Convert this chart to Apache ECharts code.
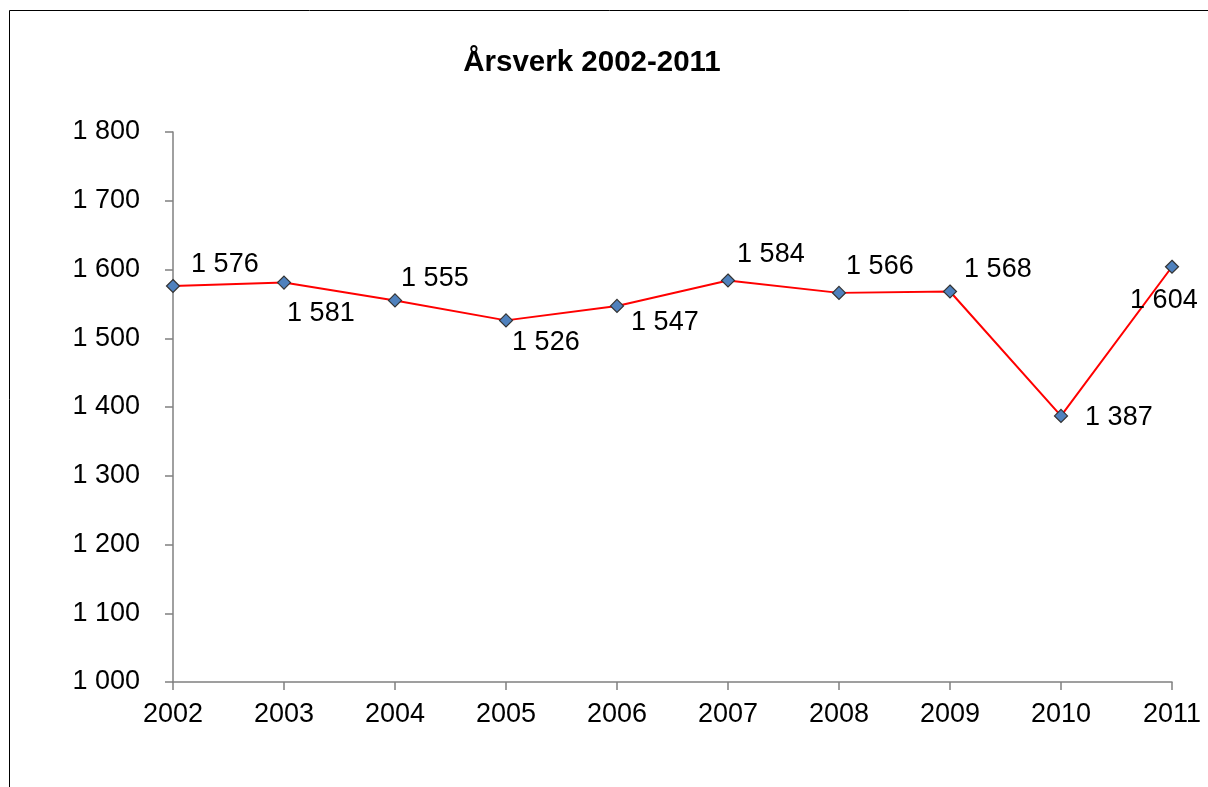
<!DOCTYPE html>
<html><head><meta charset="utf-8">
<script src="https://cdn.jsdelivr.net/npm/echarts@6/dist/echarts.min.js"></script>
<style>html,body{margin:0;padding:0;background:#fff}#c{width:1208px;height:787px}</style>
</head><body><div id="c"></div>
<script>
const titleText = 'Årsverk 2002-2011';
const years = ['2002','2003','2004','2005','2006','2007','2008','2009','2010','2011'];
const values = [1576, 1581, 1555, 1526, 1547, 1584, 1566, 1568, 1387, 1604];
const labelOffsets = [[11,-21],[-4,31],[-1,-22],[-1,22],[7,17],[2,-26],[0,-26],[7,-22],[17,2],[-49,34]];
const yMin = 1000, yMax = 1800, yStep = 100;

function fmt(v){ return String(v).replace(/\B(?=(\d{3})+(?!\d))/g, ' '); }

const chart = echarts.init(document.getElementById('c'), null, {renderer:'canvas'});
const font = 'Liberation Sans, Arial, sans-serif';
chart.setOption({
  animation:false,
  backgroundColor:'#fff',
  graphic:[{type:'rect', shape:{x:9.5,y:10.5,width:1400,height:900}, style:{fill:null, stroke:'#000', lineWidth:1}, z:-1}],
  title:{text:titleText, left:587, textAlign:'center', top:43,
    textStyle:{fontFamily:font, fontSize:29.5, fontWeight:'bold', color:'#000'}},
  grid:{left:173, right:36, top:132, bottom:105},
  xAxis:{type:'category', data:years, boundaryGap:false,
    axisLine:{lineStyle:{color:'#808080', width:1.5}},
    axisTick:{show:true, length:8, inside:false, alignWithLabel:true, lineStyle:{color:'#808080', width:1.5}},
    axisLabel:{fontFamily:font, fontSize:27, color:'#000', margin:19, interval:0},
    splitLine:{show:false}},
  yAxis:{type:'value', min:yMin, max:yMax, interval:yStep,
    axisLine:{show:true, lineStyle:{color:'#808080', width:1.5}},
    axisTick:{show:true, length:8, lineStyle:{color:'#808080', width:1.5}},
    axisLabel:{fontFamily:font, fontSize:27, color:'#000', margin:33, formatter:fmt},
    splitLine:{show:false}},
  series:[{type:'line', data:values.map((v,i)=>({value:v, label:{offset:labelOffsets[i]}})),
    symbol:'diamond', symbolSize:13,
    lineStyle:{color:'#ff0000', width:2},
    itemStyle:{color:'#4f81bd', borderColor:'#333', borderWidth:1.2},
    label:{show:true, position:'right', distance:0, fontFamily:font, fontSize:27, color:'#000',
      formatter:p=>fmt(p.value)}
  }]
});
</script></body></html>
